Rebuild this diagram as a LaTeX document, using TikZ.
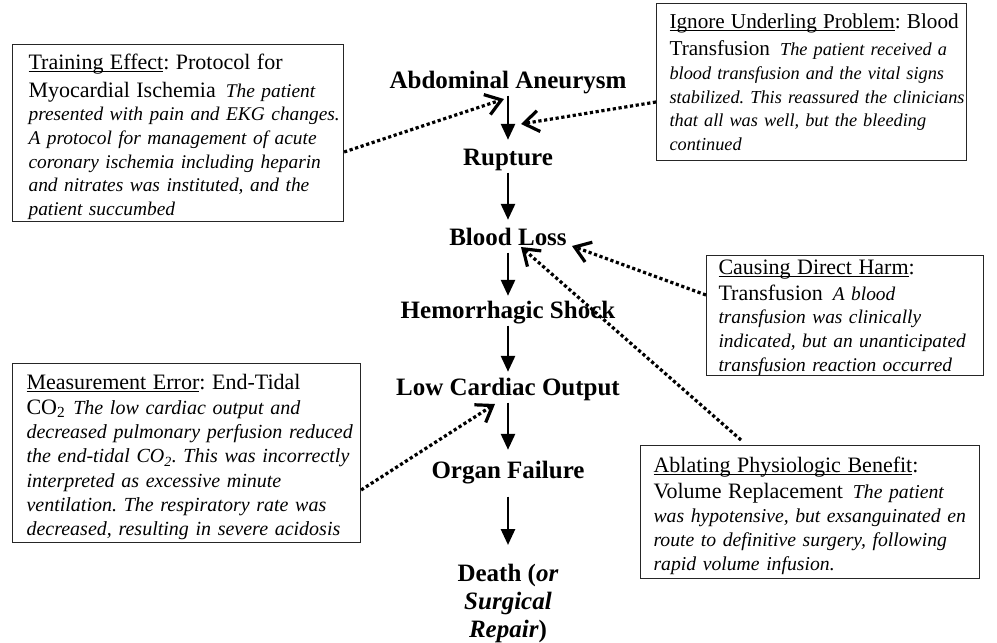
\documentclass[tikz,border=0pt]{standalone}
\usepackage{fontspec}
\setmainfont{Liberation Serif}
\usetikzlibrary{arrows.meta,calc}
\frenchspacing
\newcommand\myul[1]{\setbox0\hbox{#1}\rlap{\rule[-2.6pt]{\wd0}{1.1pt}}\box0}
\newcommand\ubig{\fontsize{\upsz}{\bsk}\selectfont\upshape}
\newcommand\notesizes[3]{\def\upsz{#1}\def\itsz{#2}\def\bsk{#3}\fontsize{#2}{#3}\selectfont\itshape\frenchspacing}
\begin{document}
\begin{tikzpicture}[x=1pt,y=-1pt,
  stage/.style={font=\fontsize{25}{28}\selectfont\bfseries, inner sep=2pt, text height=17pt, text depth=5.5pt, anchor=base},
  note/.style={draw=black!85, line width=1.1pt, align=left, anchor=north west, inner ysep=0pt},
  flow/.style={line width=2.7pt, -{Triangle[length=16pt,width=14pt]}},
  hint/.style={line width=3.2pt, dash pattern=on 3.2pt off 2.6pt, -{Straight Barb[length=15pt,width=21pt,line width=3.2pt]}}
]
\useasboundingbox (0,0) rectangle (997,643);

% central chain
\node[stage] (aa)  at (508,88)  {Abdominal Aneurysm};
\node[stage] (rup) at (508,165) {Rupture};
\node[stage] (bl)  at (508,245) {Blood Loss};
\node[stage] (hs)  at (508,318) {Hemorrhagic Shock};
\node[stage] (lco) at (508,395) {Low Cardiac Output};
\node[stage] (of)  at (508,478) {Organ Failure};
\node[font=\fontsize{25}{28}\selectfont\bfseries, align=center, inner sep=2pt, anchor=north] (death) at (508,562)
  {Death (\textit{or}\\\textit{Surgical}\\\textit{Repair})};

\draw[flow, shorten >=6pt] (aa.south) -- (rup.north);
\draw[flow, shorten >=6pt] (rup.south) -- (bl.north);
\draw[flow, shorten >=3pt] (bl.south) -- (hs.north);
\draw[flow, shorten >=4pt] (hs.south) -- (lco.north);
\draw[flow, shorten >=9pt] (lco.south) -- (of.north);
\draw[flow, shorten <=11pt, shorten >=17pt] (of.south) -- (death.north);

% boxes
\node[note, font=\notesizes{22}{19.4}{23.6}, text width=299pt, inner xsep=16pt, minimum height=177pt] (train) at (12,44) {%
\mbox{\rule{0pt}{23pt}\ubig\myul{Training Effect}: Protocol for}\\[4pt]
\mbox{{\ubig Myocardial Ischemia}\hspace{10pt}The patient}\\
\mbox{presented with pain and EKG changes.}\\
\mbox{A protocol for management of acute}\\
\mbox{coronary ischemia including heparin}\\
\mbox{and nitrates was instituted, and the}\\
\mbox{patient succumbed}};

\node[note, font=\notesizes{21.2}{18.3}{23.6}, text width=284pt, inner xsep=13pt, minimum height=157pt] (ign) at (656,3) {%
\mbox{\ubig\myul{Ignore Underling Problem}: Blood}\\[4pt]
\mbox{{\ubig Transfusion}\hspace{10pt}The patient received a}\\
\mbox{blood transfusion and the vital signs}\\
\mbox{stabilized. This reassured the clinicians}\\
\mbox{that all was well, but the bleeding}\\
\mbox{continued}};

\node[note, font=\notesizes{22}{19.4}{23.6}, text width=253pt, inner xsep=12pt, minimum height=120pt] (cause) at (706,255) {%
\mbox{\rule{0pt}{19pt}\ubig\myul{Causing Direct Harm}:}\\[2pt]
\mbox{{\ubig Transfusion}\hspace{10pt}A blood}\\
\mbox{transfusion was clinically}\\
\mbox{indicated, but an unanticipated}\\
\mbox{transfusion reaction occurred}};

\node[note, font=\notesizes{22}{20}{24.2}, text width=320pt, inner xsep=14pt, minimum height=179pt] (meas) at (12,363) {%
\mbox{\rule{0pt}{23pt}\ubig\myul{Measurement Error}: End-Tidal}\\[1pt]
\mbox{{\ubig CO\textsubscript{2}}\hspace{8pt}The low cardiac output and}\\
\mbox{decreased pulmonary perfusion reduced}\\
\mbox{the end-tidal CO\textsubscript{2}. This was incorrectly}\\
\mbox{interpreted as excessive minute}\\
\mbox{ventilation. The respiratory rate was}\\
\mbox{decreased, resulting in severe acidosis}};

\node[note, font=\notesizes{22}{19.7}{23.8}, text width=313pt, inner xsep=13pt, minimum height=133pt] (abl) at (640,445) {%
\mbox{\rule{0pt}{23pt}\ubig\myul{Ablating Physiologic Benefit}:}\\[2pt]
\mbox{{\ubig Volume Replacement}\hspace{10pt}The patient}\\
\mbox{was hypotensive, but exsanguinated en}\\
\mbox{route to definitive surgery, following}\\
\mbox{rapid volume infusion.}};

% dotted influence arrows
\coordinate (t1) at (504,99);
\coordinate (t2) at (521,124);
\coordinate (t3) at (572,246);
\coordinate (t4) at (521,247);
\coordinate (t5) at (495,404);

\draw[hint] ($(train.north east)+(0,108)$) -- (t1);
\draw[hint] ($(ign.north west)+(0,99)$) -- (t2);
\draw[hint] ($(cause.north west)+(0,40)$) -- (t3);
\draw[hint] ($(abl.north west)+(101,-5)$) -- (t4);
\draw[hint] ($(meas.north east)+(0,127)$) -- (t5);
\end{tikzpicture}
\end{document}
